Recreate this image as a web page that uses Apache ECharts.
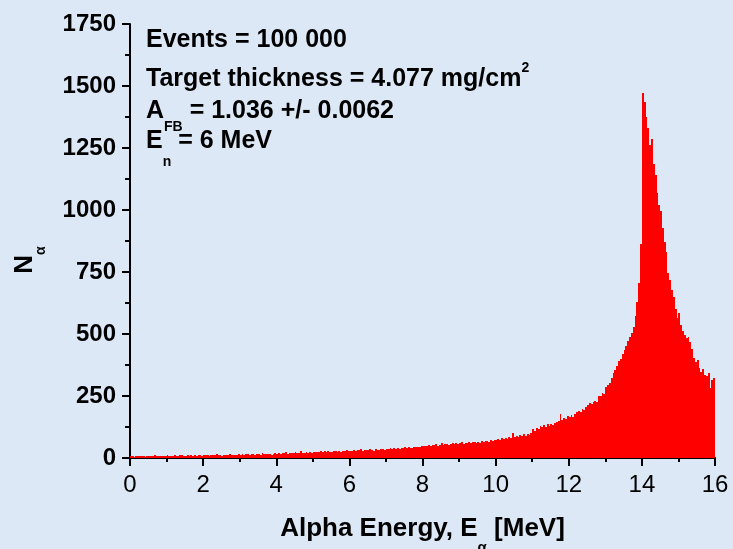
<!DOCTYPE html>
<html>
<head>
<meta charset="utf-8">
<title>Alpha energy spectrum</title>
<script src="https://cdn.jsdelivr.net/npm/echarts@6/dist/echarts.min.js"></script>
<style>
  html, body { margin: 0; padding: 0; background: #dce8f5; }
  #chart { width: 733px; height: 549px; }
</style>
</head>
<body>
<div id="chart"></div>
<script>
// Histogram of alpha-particle energies, 0.05 MeV bins from 0 to 16 MeV.
const binWidth = 0.05;
const energyMin = 0;
const energyMax = 16;

// Counts per bin, one row per MeV (20 bins each).
const counts0to4 = [
  7, 9, 6, 8, 10, 7, 9, 8, 6, 10, 8, 9, 7, 11, 8, 9, 10, 7, 9, 10,
  11, 9, 10, 8, 12, 10, 9, 11, 13, 10, 9, 12, 10, 11, 9, 12, 10, 13, 11, 10,
  12, 11, 14, 10, 13, 12, 11, 15, 12, 13, 10, 14, 12, 13, 15, 11, 13, 14, 12, 16,
  14, 17, 13, 15, 16, 14, 18, 15, 13, 17, 16, 14, 19, 15, 17, 16, 18, 14, 17, 19
];
const counts4to8 = [
  18, 20, 17, 21, 19, 23, 18, 20, 22, 19, 24, 21, 20, 27, 22, 19, 23, 21, 25, 22,
  24, 26, 23, 25, 28, 24, 27, 25, 29, 26, 24, 28, 27, 25, 30, 26, 29, 27, 31, 28,
  30, 28, 32, 29, 33, 31, 36, 30, 32, 34, 31, 35, 33, 30, 38, 34, 32, 36, 35, 33,
  37, 35, 39, 36, 40, 38, 42, 37, 41, 39, 43, 40, 44, 42, 41, 45, 43, 46, 44, 47
];
const counts8to12 = [
  48, 50, 47, 52, 49, 53, 51, 55, 50, 54, 61, 52, 56, 58, 54, 57, 62, 56, 59, 58,
  60, 63, 58, 62, 61, 64, 60, 66, 63, 61, 65, 62, 68, 64, 67, 70, 66, 72, 69, 73,
  74, 77, 72, 79, 76, 82, 78, 85, 80, 99, 83, 88, 86, 91, 87, 95, 90, 97, 93, 100,
  115, 110, 121, 118, 128, 124, 132, 127, 136, 131, 138, 135, 142, 146, 148, 178, 152, 163, 158, 170
];
const counts12to16 = [
  166, 172, 164, 178, 184, 190, 186, 199, 195, 205, 214, 222, 218, 227, 231, 226, 252, 248, 262, 258,
  288, 296, 304, 322, 341, 355, 372, 390, 398, 421, 436, 452, 470, 488, 505, 528, 574, 628, 705, 862,
  1470, 1437, 1376, 1329, 1262, 1286, 1184, 1141, 1067, 1020, 996, 927, 872, 832, 745, 718, 677, 650, 600, 563,
  583, 536, 512, 496, 484, 488, 466, 440, 404, 386, 394, 362, 348, 357, 336, 330, 341, 283, 316, 322
];

const xTicks = [0, 2, 4, 6, 8, 10, 12, 14, 16];
const yTicks = [0, 250, 500, 750, 1000, 1250, 1500, 1750];

const allCounts = counts0to4.concat(counts4to8, counts8to12, counts12to16);

// One item per bin: [left edge, right edge, count].
const bins = allCounts.map((c, i) => [
  +(energyMin + i * binWidth).toFixed(2),
  +(energyMin + (i + 1) * binWidth).toFixed(2),
  c
]);

const FONT = '"Liberation Sans", Arial, Helvetica, sans-serif';
const RED = '#ff0000';

// Each bin is a filled column from zero up to its count; edges are snapped
// to whole pixels so neighbouring columns meet without seams.
function renderBin(params, api) {
  const base = api.coord([api.value(0), 0]);
  const top = api.coord([api.value(1), api.value(2)]);
  const left = Math.round(base[0]);
  const right = Math.round(top[0]);
  const y0 = Math.round(base[1]);
  const y1 = Math.round(top[1]);
  return {
    type: 'rect',
    shape: { x: left, y: y1, width: right - left, height: y0 - y1 },
    style: { fill: RED }
  };
}

const chart = echarts.init(document.getElementById('chart'), null, { renderer: 'canvas' });

chart.setOption({
  backgroundColor: '#dce8f5',
  animation: false,
  textStyle: { fontFamily: FONT },
  grid: { left: 130, right: 18, top: 24, bottom: 91, outerBoundsMode: 'none', containLabel: false },
  xAxis: {
    type: 'value',
    min: xTicks[0],
    max: xTicks[xTicks.length - 1],
    interval: xTicks[1] - xTicks[0],
    name: 'Alpha Energy, E{sub|α} [MeV]',
    nameLocation: 'middle',
    nameGap: 41,
    nameTextStyle: {
      rich: {
        sub: { fontFamily: FONT, fontSize: 15, fontWeight: 'bold', color: '#000', lineHeight: 15, padding: [38, 0, 0, 0] }
      },
      fontFamily: FONT, fontSize: 26, fontWeight: 'bold', color: '#000'
    },
    axisLine: { show: true, onZero: false, lineStyle: { color: '#000', width: 2 } },
    axisTick: { show: true, inside: false, length: 8, lineStyle: { color: '#000', width: 2 } },
    minorTick: { show: true, splitNumber: 2, length: 4, lineStyle: { color: '#000', width: 2 } },
    axisLabel: { fontFamily: FONT, fontSize: 24, color: '#000', margin: 15 },
    splitLine: { show: false }
  },
  yAxis: {
    type: 'value',
    min: yTicks[0],
    max: yTicks[yTicks.length - 1],
    interval: yTicks[1] - yTicks[0],
    axisLine: { show: true, onZero: false, lineStyle: { color: '#000', width: 2 } },
    axisTick: { show: true, inside: false, length: 8, lineStyle: { color: '#000', width: 2 } },
    minorTick: { show: true, splitNumber: 2, length: 5, lineStyle: { color: '#000', width: 2 } },
    axisLabel: {
      fontFamily: FONT, fontSize: 24, fontWeight: 'bold', color: '#000', margin: 14,
      formatter: v => String(v)
    },
    splitLine: { show: false }
  },
  graphic: [
    {
      type: 'text', x: 25, y: 260, rotation: Math.PI / 2, silent: true,
      style: {
        text: '{m|N}{sub|α}', align: 'center', verticalAlign: 'middle',
        rich: {
          m: { fontFamily: FONT, fontSize: 26, fontWeight: 'bold', fill: '#000', lineHeight: 26 },
          sub: { fontFamily: FONT, fontSize: 14, fontWeight: 'bold', fill: '#000', lineHeight: 14, padding: [33, 0, 0, 0] }
        }
      }
    },
    {
      type: 'text', x: 146, y: 40, silent: true,
      style: {
        text: '{m|Events = 100 000}', align: 'left', verticalAlign: 'middle',
        rich: { m: { fontFamily: FONT, fontSize: 25, fontWeight: 'bold', fill: '#000', lineHeight: 25 } }
      }
    },
    {
      type: 'text', x: 146, y: 79, silent: true,
      style: {
        text: '{m|Target thickness = 4.077 mg/cm}{sup|2}', align: 'left', verticalAlign: 'middle',
        rich: {
          m: { fontFamily: FONT, fontSize: 25, fontWeight: 'bold', fill: '#000', lineHeight: 25 },
          sup: { fontFamily: FONT, fontSize: 14, fontWeight: 'bold', fill: '#000', lineHeight: 14, padding: [0, 0, 22, 0] }
        }
      }
    },
    {
      type: 'text', x: 146, y: 111, silent: true,
      style: {
        text: '{m|A}{sub|FB}{m| = 1.036 +/- 0.0062}', align: 'left', verticalAlign: 'middle',
        rich: {
          m: { fontFamily: FONT, fontSize: 25, fontWeight: 'bold', fill: '#000', lineHeight: 25 },
          sub: { fontFamily: FONT, fontSize: 14, fontWeight: 'bold', fill: '#000', lineHeight: 14, padding: [32, 0, 0, 0] }
        }
      }
    },
    {
      type: 'text', x: 146, y: 141, silent: true,
      style: {
        text: '{m|E}{sub|n}{m| = 6 MeV}', align: 'left', verticalAlign: 'middle',
        rich: {
          m: { fontFamily: FONT, fontSize: 25, fontWeight: 'bold', fill: '#000', lineHeight: 25 },
          sub: { fontFamily: FONT, fontSize: 14, fontWeight: 'bold', fill: '#000', lineHeight: 14, padding: [42, 0, 0, 0] }
        }
      }
    }
  ],
  series: [
    {
      type: 'custom',
      data: bins,
      renderItem: renderBin,
      encode: { x: [0, 1], y: 2 },
      clip: true,
      silent: true,
      z: 1
    }
  ]
});
</script>
</body>
</html>
